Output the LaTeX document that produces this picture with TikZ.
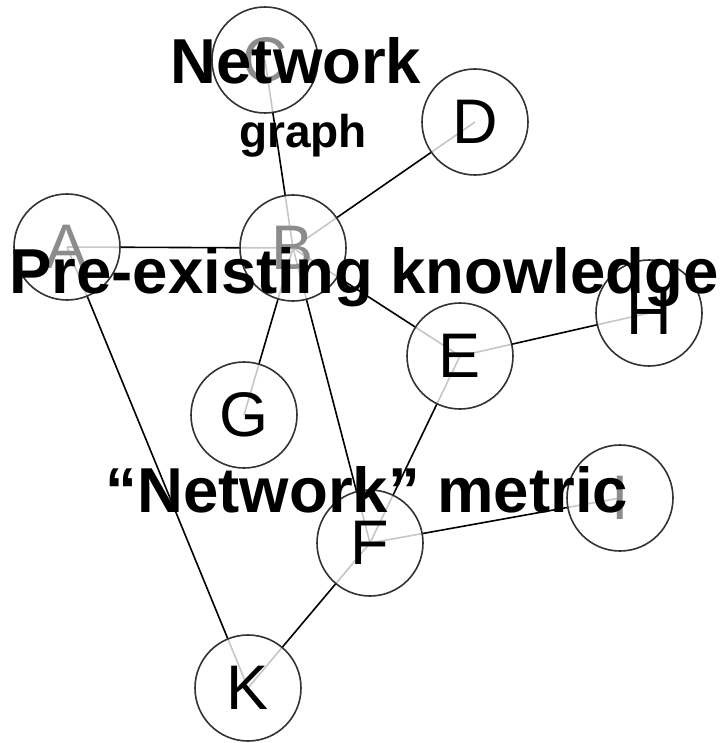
\documentclass[tikz,border=0pt]{standalone}
\usepackage{fontspec}
\setmainfont{Liberation Sans}
\usetikzlibrary{backgrounds}

\tikzset{
    vertex/.style={circle, draw=black!80, line width=1.6pt, fill=white, fill opacity=0.78,
        text opacity=1, minimum size=106pt, inner sep=0pt,
        font=\fontsize{63}{63}\selectfont},
    faded/.style={text=black!45},
    link/.style={line width=1.6pt, black},
    title/.style={font=\fontsize{63.5}{63.5}\selectfont\bfseries, inner sep=0pt, anchor=base}
}

\begin{document}
\begin{tikzpicture}[x=1pt, y=-1pt]
    \useasboundingbox (0,0) rectangle (727,743);

    % Vertices
    \node[vertex, faded] (A) at (67,247) {A};
    \node[vertex, faded] (B) at (293,248) {B};
    \node[vertex, faded] (C) at (265,60) {C};
    \node[vertex] (D) at (475,122) {D};
    \node[vertex] (E) at (460,356) {E};
    \node[vertex] (H) at (649,313) {H};
    \node[vertex] (G) at (244,415) {G};
    \node[vertex] (F) at (370,543) {F};
    \node[vertex, faded] (I) at (620,498) {I};
    \node[vertex] (K) at (248,688) {K};

    % Edges, behind the vertices
    \begin{scope}[on background layer]
        \foreach \u/\v in {A/B, B/C, B/D, B/E, B/G, B/F, E/H, E/F, F/I, F/K, A/K}
            \draw[link] (\u.center) -- (\v.center);
    \end{scope}

    % Captions over the graph
    \node[title] (net) at (296,84) {Network};
    \node[title, font=\fontsize{46}{46}\selectfont\bfseries] (graph) at (303,148) {graph};
    \node[title] (prior) at (364,293) {Pre-existing knowledge};
    \node[title] (metric) at (367,512) {“Network” metric};
\end{tikzpicture}
\end{document}
